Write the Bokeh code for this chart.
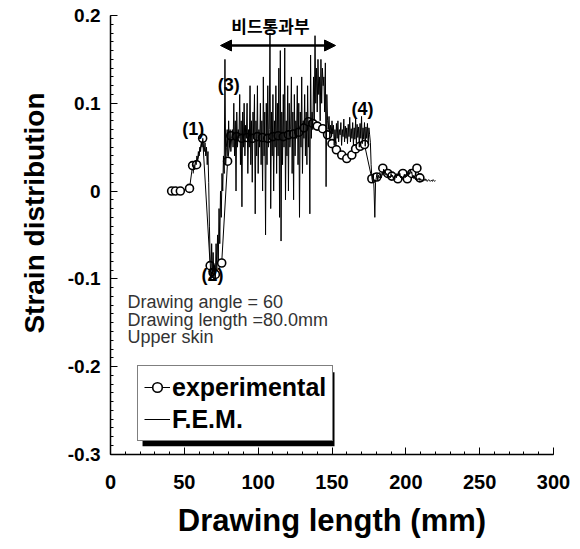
import numpy as np
from bokeh.plotting import figure
from bokeh.models import (Range1d, SingleIntervalTicker, Legend, LegendItem, Label, Title,
                          Arrow, NormalHead, BoxAnnotation, ColumnDataSource, CustomJSTickFormatter)
from bokeh.core.properties import value
from bokeh.embed import file_html
from bokeh.resources import INLINE

# ---------------- data ----------------
exp_x = [41.4, 44.0, 47.3, 53.5, 55.6, 58.3, 62.4, 67.5, 69.5, 71.0, 75.3, 79.3, 81.5,
         85.5, 89.0, 92.5, 96.0, 99.5, 103.0, 106.5, 110.0, 113.5, 117.0, 120.5, 124.0,
         127.5, 131.0, 134.0, 137.0, 140.0, 143.7, 147.0, 150.0, 153.0, 156.6, 160.0,
         163.4, 166.0, 169.0, 172.0, 177.0, 180.3, 184.4, 187.8, 190.5, 194.6, 198.0,
         201.0, 204.0, 207.5, 209.5]
exp_y = [0.0, 0.0, 0.0, 0.003, 0.029, 0.030, 0.060, -0.085, -0.093, -0.095, -0.082, 0.034, 0.063,
         0.062, 0.060, 0.061, 0.060, 0.062, 0.061, 0.060, 0.062, 0.063, 0.062, 0.064, 0.065,
         0.067, 0.072, 0.079, 0.077, 0.074, 0.071, 0.064, 0.054, 0.047, 0.041, 0.037,
         0.041, 0.048, 0.051, 0.053, 0.014, 0.016, 0.026, 0.020, 0.017, 0.014, 0.020,
         0.014, 0.020, 0.026, 0.015]

fem_x_start = 56.0
fem_dx = 0.5
fem_y = [
    # 56 - 62
    0.02, 0.03, 0.025, 0.035, 0.03, 0.04, 0.035, 0.045, 0.04, 0.05, 0.045, 0.055, 0.05,
    # 62.5 - 66
    0.06, 0.05, 0.045, 0.055, 0.04, 0.05, 0.03, 0.045,
    # 66.5 - 72
    0.01, -0.04, -0.08, -0.1, -0.06, -0.095, -0.07, -0.1, -0.085, -0.1, -0.06, -0.09,
    # 72.5 - 78
    -0.05, -0.08, -0.02, -0.06, 0.0, -0.03, 0.02, 0.0, 0.04, 0.02, 0.15, 0.03,
    # 78.5 - 82
    0.05, 0.07, 0.04, 0.08, 0.05, 0.07, 0.045, 0.06,
    # 82.5 - 147
    0.07, 0.05, 0.1, 0.04, 0.08, 0.0, 0.09, 0.05, 0.07, 0.06,
    0.11, 0.03, 0.08, -0.018, 0.09, 0.05, 0.1, 0.04, 0.075, 0.06,
    0.1, 0.02, 0.07, 0.05, 0.12, 0.03, 0.08, 0.01, 0.09, 0.06,
    0.11, -0.026, 0.08, 0.04, 0.12, 0.02, 0.07, 0.05, 0.1, 0.03,
    0.08, 0.0, 0.13, 0.04, 0.09, -0.05, 0.1, 0.03, 0.12, 0.05,
    0.07, 0.18, -0.02, 0.09, 0.04, 0.11, 0.0, 0.08, 0.05, 0.12,
    0.02, 0.1, 0.04, 0.14, -0.03, 0.16, -0.057, 0.09, 0.03, 0.11,
    0.05, 0.163, -0.01, 0.08, 0.04, 0.12, 0.0, 0.1, 0.05, 0.07,
    0.13, 0.02, 0.09, -0.01, 0.11, 0.04, 0.08, 0.06, 0.12, 0.03,
    0.1, -0.03, 0.09, 0.05, 0.13, 0.02, 0.08, 0.06, 0.11, 0.04,
    0.09, 0.03, 0.12, 0.05, 0.08, -0.026, 0.155, 0.06, 0.09, 0.07,
    0.13, 0.08, 0.177, 0.1, 0.14, 0.09, 0.15, 0.11, 0.13, 0.08,
    0.15, 0.1, 0.14, 0.12, 0.13, 0.09, 0.146, 0.005, 0.11, 0.08,
    # 147.5 - 150
    0.07, 0.085, 0.06, 0.075, 0.065, 0.08,
    # 150.5 - 176
    0.065, 0.075, 0.052, 0.07, 0.055, 0.077, 0.06, 0.08, 0.056, 0.07,
    0.064, 0.078, 0.052, 0.07, 0.062, 0.082, 0.056, 0.074, 0.06, 0.072,
    0.054, 0.076, 0.062, 0.084, 0.056, 0.071, 0.06, 0.078, 0.052, 0.072,
    0.059, 0.082, 0.054, 0.076, 0.061, 0.073, 0.05, 0.077, 0.06, 0.085,
    0.054, 0.072, 0.059, 0.078, 0.051, 0.073, 0.06, 0.077, 0.054, 0.072,
    0.064, 0.055,
    # 176.5 - 182
    0.03, 0.015, 0.01, 0.02, 0.0, -0.03, 0.01, 0.015, 0.02, 0.012, 0.018, 0.015,
    # 182.5 - 220
    0.016, 0.02, 0.015, 0.022, 0.018, 0.025, 0.02, 0.024, 0.018, 0.02,
    0.016, 0.019, 0.014, 0.017, 0.015, 0.02, 0.016, 0.018, 0.014, 0.016,
    0.013, 0.018, 0.015, 0.02, 0.017, 0.022, 0.018, 0.02, 0.015, 0.017,
    0.013, 0.016, 0.014, 0.019, 0.015, 0.018, 0.016, 0.02, 0.017, 0.022,
    0.019, 0.025, 0.02, 0.022, 0.016, 0.018, 0.014, 0.016, 0.013, 0.015,
    0.012, 0.014, 0.013, 0.015, 0.012, 0.014, 0.012, 0.013, 0.011, 0.013,
    0.012, 0.014, 0.012, 0.013, 0.011, 0.012, 0.013, 0.012, 0.011, 0.012,
    0.012, 0.011, 0.013, 0.012, 0.011, 0.012,
]
fem_x = fem_x_start + fem_dx * np.arange(len(fem_y))

point_labels = ["(1)", "(2)", "(3)", "(4)"]
point_label_x = [56.0, 69.0, 80.0, 170.6]
point_label_y = [0.071, -0.096, 0.121, 0.094]

info_lines = ["Drawing angle = 60", "Drawing length =80.0mm", "Upper skin"]
info_x = [11.5, 11.5, 11.5]
info_y = [-0.127, -0.1474, -0.1667]

region_text = "비드통과부"
region_start, region_end = 74.5, 152.4
region_arrow_y = 0.1658
region_label_x, region_label_y = 108.3, 0.189

# ---------------- figure ----------------
FONT = "Liberation Sans"
p = figure(width=575, height=545, x_range=Range1d(0, 300), y_range=Range1d(-0.3002, 0.2),
           output_backend="svg", toolbar_location=None,
           min_border_left=110, min_border_right=22, min_border_top=15, min_border_bottom=91)
p.outline_line_color = None
p.grid.visible = False
p.background_fill_color = "white"
p.border_fill_color = "white"

p.xaxis.ticker = SingleIntervalTicker(interval=50, num_minor_ticks=5)
p.yaxis.ticker = SingleIntervalTicker(interval=0.1, num_minor_ticks=10)
p.yaxis.formatter = CustomJSTickFormatter(code="return String(Number(tick.toFixed(2)));")

for ax in (p.xaxis[0], p.yaxis[0]):
    ax.axis_line_width = 1.5
    ax.axis_line_color = "black"
    ax.major_tick_in = 7
    ax.major_tick_out = 0
    ax.minor_tick_in = 3
    ax.minor_tick_out = 0
    ax.major_tick_line_color = "black"
    ax.minor_tick_line_color = "black"
    ax.major_label_text_font = FONT
    ax.major_label_text_font_style = "bold"
    ax.major_label_text_color = "black"
    ax.axis_label_text_font = FONT
    ax.axis_label_text_font_style = "bold"
    ax.axis_label_text_color = "black"

p.xaxis.major_label_text_font_size = "20px"
p.yaxis.major_label_text_font_size = "19px"
p.xaxis.major_label_standoff = 20
p.yaxis.major_label_standoff = 10
p.xaxis.axis_label = "Drawing length (mm)"
p.xaxis.axis_label_text_font_size = "31px"
p.xaxis.axis_label_standoff = 11

# y title as a side title so it can sit a little above the frame centre
p.add_layout(Title(text="Strain distribution", align="right", offset=77, standoff=29,
                   text_font=FONT, text_font_style="bold", text_font_size="28px",
                   text_color="black"), "left")

# ---------------- series ----------------
exp_src = ColumnDataSource(dict(x=exp_x, y=exp_y))
fem_src = ColumnDataSource(dict(x=fem_x, y=fem_y))

exp_line = p.line("x", "y", source=exp_src, line_color="black", line_width=1)
exp_pts = p.scatter("x", "y", source=exp_src, marker="circle", size=8,
                    fill_color="white", line_color="black", line_width=1.6)
fem_line = p.line("x", "y", source=fem_src, line_color="black", line_width=1)

# point labels
lab_src = ColumnDataSource(dict(x=point_label_x, y=point_label_y, t=point_labels))
p.text("x", "y", text="t", source=lab_src, text_font=value(FONT), text_font_style="bold",
       text_font_size="18px", text_align="center", text_baseline="middle", text_color="black")

# info lines
info_src = ColumnDataSource(dict(x=info_x, y=info_y, t=info_lines))
p.text("x", "y", text="t", source=info_src, text_font=value(FONT),
       text_font_size="18px", text_align="left", text_baseline="middle", text_color="#333333")

# region arrow + Korean label
p.add_layout(Arrow(start=NormalHead(size=11, fill_color="black", line_color="black"),
                   end=NormalHead(size=11, fill_color="black", line_color="black"),
                   x_start=region_start, y_start=region_arrow_y,
                   x_end=region_end, y_end=region_arrow_y,
                   line_width=2.5, line_color="black"))
p.add_layout(Label(x=region_label_x, y=region_label_y, text=region_text,
                   text_font="Noto Sans CJK KR", text_font_size="17px", text_font_style="bold",
                   text_align="center", text_baseline="middle", text_color="black"))

# legend shadow then legend
p.add_layout(BoxAnnotation(left=21.7, right=151.7, top=-0.2066, bottom=-0.2909,
                           fill_color="black", fill_alpha=1.0, line_alpha=0))
legend = Legend(items=[LegendItem(label="experimental", renderers=[exp_line, exp_pts]),
                       LegendItem(label="F.E.M.", renderers=[fem_line])],
                location=(27, 13), margin=0, padding=6, spacing=2,
                glyph_width=26, glyph_height=24, label_standoff=2,
                label_width=150, label_height=30,
                label_text_font=FONT, label_text_font_style="bold", label_text_font_size="25px",
                label_text_color="black",
                border_line_color="black", border_line_width=1.5,
                background_fill_color="white", background_fill_alpha=1.0)
p.add_layout(legend)

open("out.html", "w").write(file_html(p, INLINE))
